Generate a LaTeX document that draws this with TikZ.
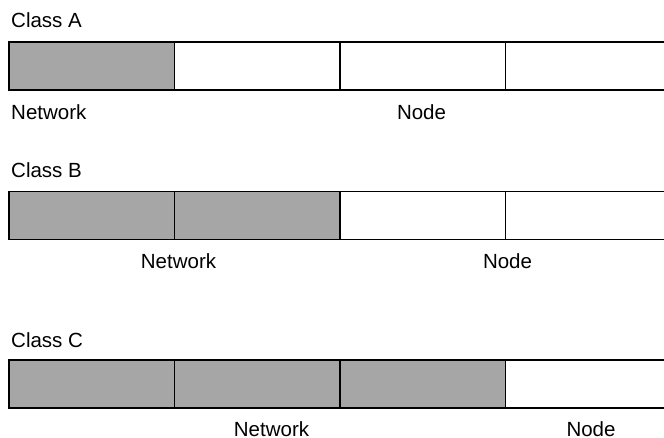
\documentclass[tikz,border=0pt]{standalone}
\usepackage{fontspec}
\setmainfont{Liberation Sans}
\definecolor{cellgray}{HTML}{A6A6A6}
\begin{document}
\begin{tikzpicture}[x=1pt,y=-1pt,
  cell/.style={draw=black,line width=1.2pt,minimum width=165.5pt,minimum height=48pt,inner sep=0pt,outer sep=0pt,anchor=north west},
  net/.style={cell,fill=cellgray},
  host/.style={cell,fill=white},
  lbl/.style={font=\fontsize{20.5}{24}\selectfont,inner sep=0pt,text=black}]
\useasboundingbox (0,0) rectangle (664,438);
\clip (0,0) rectangle (664,438);
% Class A
\node[lbl,anchor=base west] (ta) at (11,28) {Class A};
\node[net]  (a1) at (9,42) {};
\node[host] (a2) at (174.5,42) {};
\node[host] (a3) at (340,42) {};
\node[host] (a4) at (505.5,42) {};
\node[lbl,anchor=base west] (na) at (11,120) {Network};
\node[lbl,anchor=base] (ha) at (421.5,120) {Node};
% Class B
\node[lbl,anchor=base west] (tb) at (11,178) {Class B};
\node[net]  (b1) at (9,191.5) {};
\node[net]  (b2) at (174.5,191.5) {};
\node[host] (b3) at (340,191.5) {};
\node[host] (b4) at (505.5,191.5) {};
\node[lbl,anchor=base] (nb) at (178.5,269) {Network};
\node[lbl,anchor=base] (hb) at (507.5,269) {Node};
% Class C
\node[lbl,anchor=base west] (tc) at (11,347) {Class C};
\node[net]  (c1) at (9,360) {};
\node[net]  (c2) at (174.5,360) {};
\node[net]  (c3) at (340,360) {};
\node[host] (c4) at (505.5,360) {};
\node[lbl,anchor=base] (nc) at (271.5,436.5) {Network};
\node[lbl,anchor=base] (hc) at (591,436.5) {Node};
\end{tikzpicture}
\end{document}
